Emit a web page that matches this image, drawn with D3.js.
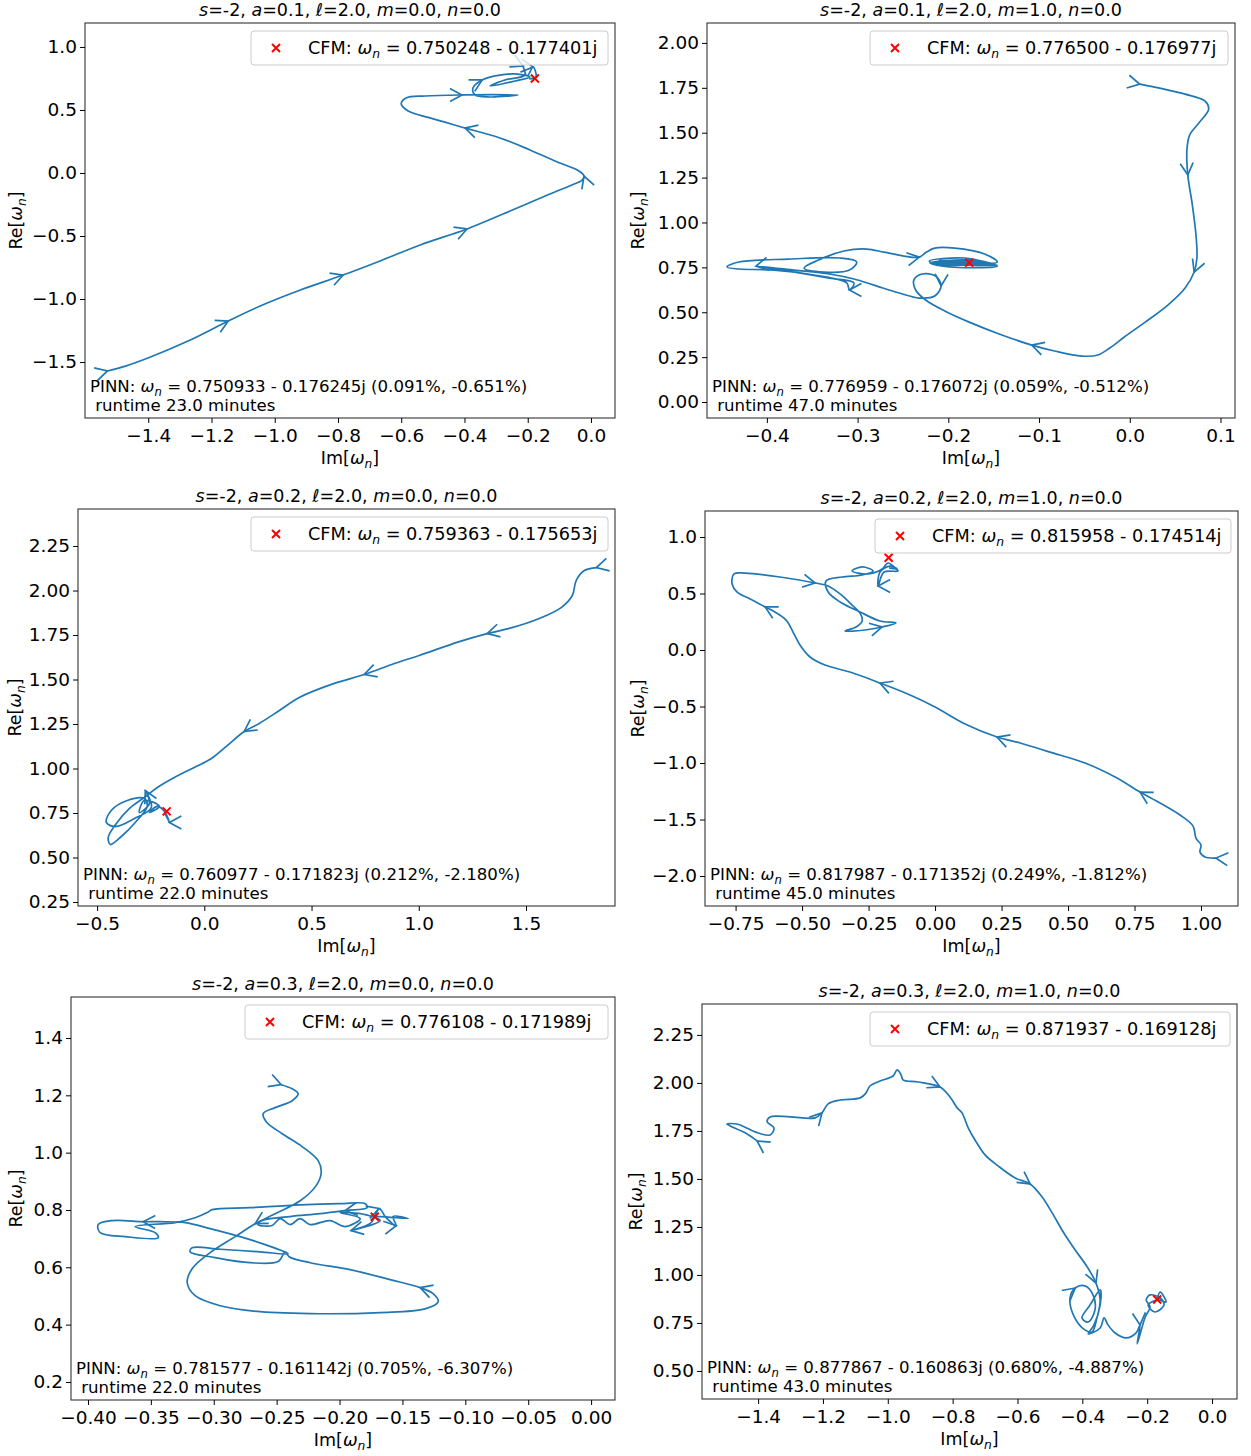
<!DOCTYPE html>
<html>
<head>
<meta charset="utf-8">
<script src="https://cdn.jsdelivr.net/npm/d3@7"></script>
<style>
  body { margin: 0; background: #fff; }
  svg { font-family: "DejaVu Sans", sans-serif; }
</style>
</head>
<body>
<script>
// ---- data ----
var titleA = ["0.1", "0.1", "0.2", "0.2", "0.3", "0.3"];
var titleM = ["0.0", "1.0", "0.0", "1.0", "0.0", "1.0"];

var cfmRe = [0.750248, 0.776500, 0.759363, 0.815958, 0.776108, 0.871937];
var cfmIm = [-0.177401, -0.176977, -0.175653, -0.174514, -0.171989, -0.169128];

var pinnText = [
  ["0.750933 - 0.176245j (0.091%, -0.651%)", "23.0"],
  ["0.776959 - 0.176072j (0.059%, -0.512%)", "47.0"],
  ["0.760977 - 0.171823j (0.212%, -2.180%)", "22.0"],
  ["0.817987 - 0.171352j (0.249%, -1.812%)", "45.0"],
  ["0.781577 - 0.161142j (0.705%, -6.307%)", "22.0"],
  ["0.877867 - 0.160863j (0.680%, -4.887%)", "43.0"]
];

// trajectory 1 : s=-2, a=0.1, m=0
var im1 = [-1.529,-1.472,-1.393,-1.267,-1.147,-1.046,-0.919,-0.784,-0.667,-0.540,-0.392,-0.256,-0.130,-0.060,-0.028,-0.022,-0.038,-0.098,-0.193,-0.288,-0.398,-0.509,-0.578,-0.600,-0.585,-0.524,-0.408,-0.231,-0.319,-0.367,-0.373,-0.344,-0.303,-0.240,-0.193,-0.240,-0.319,-0.272,-0.209,-0.215,-0.202,-0.183,-0.174,-0.193,-0.177];
var re1 = [-1.571,-1.532,-1.460,-1.325,-1.175,-1.056,-0.929,-0.810,-0.698,-0.571,-0.444,-0.302,-0.167,-0.095,-0.056,-0.024,0.016,0.079,0.183,0.278,0.357,0.437,0.492,0.548,0.595,0.611,0.619,0.619,0.603,0.619,0.675,0.738,0.770,0.786,0.762,0.730,0.690,0.738,0.778,0.849,0.770,0.841,0.762,0.746,0.754];
var arr1 = [0, 4, 7, 10, 15, 20, 26, 31, 39, 41];

// trajectory 2 : s=-2, a=0.1, m=1
var im2 = [0.011,0.033,0.061,0.083,0.087,0.077,0.066,0.063,0.064,0.069,0.073,0.074,0.071,0.061,0.042,0.017,-0.006,-0.022,-0.035,-0.053,-0.083,-0.108,-0.144,-0.177,-0.204,-0.225,-0.236,-0.238,-0.229,-0.214,-0.208,-0.215,-0.232,-0.254,-0.282,-0.304,-0.331,-0.370,-0.412,-0.376,-0.331,-0.304,-0.309,-0.312,-0.348,-0.392,-0.431,-0.444,-0.431,-0.376,-0.320,-0.301,-0.309,-0.337,-0.359,-0.343,-0.315,-0.290,-0.271,-0.249,-0.232,-0.224,-0.215,-0.193,-0.160,-0.146,-0.171,-0.210,-0.221,-0.182,-0.146,-0.199,-0.220,-0.177,-0.155,-0.204,-0.146,-0.215,-0.150,-0.210,-0.155,-0.220,-0.146,-0.205,-0.160,-0.215,-0.175];
var re2 = [1.771,1.748,1.715,1.676,1.631,1.559,1.487,1.403,1.264,1.097,0.930,0.802,0.724,0.635,0.540,0.445,0.362,0.301,0.262,0.256,0.284,0.317,0.379,0.445,0.507,0.568,0.624,0.679,0.713,0.702,0.646,0.590,0.579,0.607,0.651,0.685,0.713,0.735,0.757,0.729,0.690,0.663,0.624,0.663,0.707,0.735,0.741,0.752,0.780,0.796,0.802,0.780,0.735,0.724,0.746,0.791,0.841,0.852,0.835,0.813,0.807,0.835,0.857,0.857,0.824,0.780,0.768,0.763,0.785,0.802,0.757,0.752,0.774,0.791,0.768,0.768,0.763,0.780,0.770,0.790,0.775,0.770,0.760,0.785,0.780,0.775,0.778];
var arr2 = [0, 8, 12, 21, 30, 38, 42, 60];

// trajectory 3 : s=-2, a=0.2, m=0
var im3 = [1.828,1.772,1.734,1.716,1.664,1.562,1.422,1.319,1.189,1.002,0.886,0.746,0.606,0.443,0.350,0.256,0.186,0.107,0.033,-0.047,-0.140,-0.219,-0.280,-0.350,-0.410,-0.448,-0.438,-0.387,-0.322,-0.266,-0.280,-0.359,-0.434,-0.457,-0.415,-0.326,-0.247,-0.275,-0.256,-0.303,-0.280,-0.210,-0.256,-0.219,-0.182,-0.163,-0.186];
var re3 = [2.129,2.112,2.056,1.972,1.904,1.843,1.787,1.758,1.713,1.635,1.590,1.528,1.478,1.399,1.326,1.253,1.208,1.129,1.056,1.006,0.949,0.893,0.837,0.775,0.691,0.612,0.573,0.618,0.697,0.787,0.831,0.820,0.764,0.697,0.674,0.719,0.781,0.876,0.803,0.753,0.820,0.787,0.753,0.787,0.753,0.697,0.753];
var arr3 = [0, 7, 11, 16, 37, 45];

// trajectory 4 : s=-2, a=0.2, m=1
var im4 = [1.056,1.015,0.996,1.000,0.981,0.970,0.921,0.846,0.771,0.677,0.564,0.432,0.320,0.233,0.113,0.000,-0.094,-0.207,-0.320,-0.414,-0.470,-0.508,-0.534,-0.560,-0.602,-0.639,-0.695,-0.744,-0.763,-0.756,-0.714,-0.583,-0.451,-0.402,-0.357,-0.312,-0.282,-0.274,-0.297,-0.338,-0.263,-0.199,-0.147,-0.207,-0.282,-0.357,-0.402,-0.410,-0.350,-0.274,-0.233,-0.274,-0.312,-0.252,-0.199,-0.177,-0.150,-0.139,-0.192,-0.214,-0.207,-0.169,-0.143,-0.173];
var re4 = [-1.841,-1.832,-1.788,-1.726,-1.664,-1.558,-1.460,-1.354,-1.257,-1.124,-1.000,-0.903,-0.823,-0.770,-0.655,-0.504,-0.398,-0.292,-0.195,-0.133,-0.062,0.044,0.159,0.265,0.336,0.381,0.451,0.513,0.584,0.673,0.681,0.646,0.593,0.566,0.496,0.398,0.327,0.257,0.204,0.168,0.177,0.204,0.239,0.257,0.336,0.425,0.513,0.611,0.646,0.664,0.699,0.735,0.699,0.673,0.717,0.770,0.726,0.699,0.690,0.566,0.690,0.743,0.717,0.726];
var arr4 = [0, 8, 13, 17, 25, 32, 41, 59];

// trajectory 5 : s=-2, a=0.3, m=0
var im5 = [-0.2464,-0.2377,-0.2329,-0.2377,-0.2512,-0.2607,-0.2583,-0.2456,-0.2297,-0.2170,-0.2146,-0.2186,-0.2313,-0.2512,-0.2671,-0.2830,-0.3029,-0.3172,-0.3211,-0.3148,-0.2949,-0.2631,-0.2154,-0.1677,-0.1320,-0.1216,-0.1256,-0.1359,-0.1598,-0.1916,-0.2234,-0.2401,-0.2432,-0.2488,-0.2711,-0.2989,-0.3188,-0.3172,-0.2949,-0.2631,-0.2409,-0.2591,-0.2790,-0.3029,-0.3227,-0.3426,-0.3561,-0.3808,-0.3919,-0.3903,-0.3704,-0.3442,-0.3466,-0.3625,-0.3307,-0.3148,-0.3052,-0.3013,-0.2711,-0.2313,-0.1995,-0.1796,-0.1781,-0.1955,-0.2154,-0.2393,-0.2615,-0.2647,-0.2536,-0.2472,-0.2393,-0.2313,-0.2234,-0.2075,-0.1955,-0.1836,-0.1995,-0.1796,-0.1677,-0.1908,-0.1749,-0.1685,-0.1630,-0.1550,-0.1574,-0.1455,-0.1677,-0.1725];
var re5 = [1.237,1.223,1.206,1.181,1.157,1.136,1.108,1.066,1.021,0.972,0.930,0.885,0.832,0.787,0.752,0.707,0.651,0.595,0.546,0.501,0.466,0.445,0.438,0.442,0.455,0.480,0.508,0.529,0.557,0.592,0.616,0.637,0.654,0.620,0.616,0.634,0.654,0.668,0.663,0.654,0.647,0.679,0.707,0.735,0.756,0.759,0.759,0.763,0.749,0.721,0.707,0.703,0.721,0.742,0.756,0.773,0.791,0.801,0.808,0.818,0.822,0.822,0.808,0.798,0.787,0.777,0.763,0.749,0.746,0.770,0.749,0.770,0.749,0.763,0.742,0.770,0.791,0.784,0.763,0.728,0.756,0.805,0.773,0.745,0.777,0.770,0.777,0.777];
var arr5 = [0, 14, 27, 46, 63, 79, 81, 83];

// trajectory 6 : s=-2, a=0.3, m=1
var im6 = [-1.403,-1.440,-1.486,-1.496,-1.465,-1.409,-1.363,-1.351,-1.372,-1.363,-1.301,-1.224,-1.203,-1.184,-1.147,-1.085,-1.067,-1.055,-1.024,-0.984,-0.971,-0.959,-0.953,-0.907,-0.839,-0.808,-0.786,-0.771,-0.752,-0.731,-0.700,-0.660,-0.607,-0.561,-0.524,-0.493,-0.459,-0.422,-0.385,-0.358,-0.345,-0.355,-0.370,-0.392,-0.426,-0.438,-0.422,-0.392,-0.367,-0.361,-0.382,-0.401,-0.376,-0.345,-0.345,-0.364,-0.382,-0.345,-0.333,-0.321,-0.299,-0.265,-0.234,-0.222,-0.231,-0.206,-0.191,-0.203,-0.191,-0.160,-0.148,-0.176,-0.197,-0.167,-0.142,-0.160,-0.170];
var re6 = [1.698,1.740,1.776,1.786,1.786,1.745,1.729,1.766,1.797,1.823,1.823,1.818,1.844,1.891,1.911,1.922,1.948,1.984,2.010,2.036,2.068,2.042,2.016,2.005,1.979,1.927,1.870,1.844,1.766,1.703,1.625,1.568,1.505,1.474,1.406,1.323,1.224,1.130,1.042,0.958,0.870,0.776,0.703,0.714,0.786,0.880,0.932,0.943,0.896,0.818,0.755,0.776,0.844,0.922,0.844,0.740,0.693,0.724,0.776,0.740,0.698,0.672,0.698,0.740,0.641,0.781,0.833,0.870,0.896,0.880,0.844,0.807,0.844,0.870,0.859,0.911,0.870];
var arr6 = [0, 12, 24, 33, 39, 46, 63];

var trajIm = [im1, im2, im3, im4, im5, im6];
var trajRe = [re1, re2, re3, re4, re5, re6];
var trajArrows = [arr1, arr2, arr3, arr4, arr5, arr6];

// ---- layout ----
var panels = [
  {box: {l: 85, r: 615, t: 23, b: 418}, xd: [-1.600, 0.076], yd: [-1.944, 1.190],
   xt: [-1.4, -1.2, -1.0, -0.8, -0.6, -0.4, -0.2, 0.0], yt: [-1.5, -1.0, -0.5, 0.0, 0.5, 1.0], xf: ".1f", yf: ".1f", ylx: 16, lw: 357},
  {box: {l: 707, r: 1235, t: 23, b: 418}, xd: [-0.466, 0.116], yd: [-0.089, 2.111],
   xt: [-0.4, -0.3, -0.2, -0.1, 0.0, 0.1], yt: [0, 0.25, 0.5, 0.75, 1.0, 1.25, 1.5, 1.75, 2.0], xf: ".1f", yf: ".2f", ylx: 638, lw: 358},
  {box: {l: 78, r: 615, t: 509, b: 906}, xd: [-0.589, 1.915], yd: [0.2275, 2.458],
   xt: [-0.5, 0.0, 0.5, 1.0, 1.5], yt: [0.25, 0.5, 0.75, 1.0, 1.25, 1.5, 1.75, 2.0, 2.25], xf: ".1f", yf: ".2f", ylx: 15, lw: 357},
  {box: {l: 705, r: 1238, t: 511, b: 906}, xd: [-0.865, 1.139], yd: [-2.265, 1.230],
   xt: [-0.75, -0.5, -0.25, 0, 0.25, 0.5, 0.75, 1.0], yt: [-2.0, -1.5, -1.0, -0.5, 0.0, 0.5, 1.0], xf: ".2f", yf: ".1f", ylx: 638, lw: 356},
  {box: {l: 71, r: 615, t: 997, b: 1400}, xd: [-0.4135, 0.019], yd: [0.137, 1.543],
   xt: [-0.40, -0.35, -0.30, -0.25, -0.20, -0.15, -0.10, -0.05, 0.00], yt: [0.2, 0.4, 0.6, 0.8, 1.0, 1.2, 1.4], xf: ".2f", yf: ".1f", ylx: 16, lw: 363},
  {box: {l: 702, r: 1237, t: 1004, b: 1399}, xd: [-1.573, 0.077], yd: [0.354, 2.411],
   xt: [-1.4, -1.2, -1.0, -0.8, -0.6, -0.4, -0.2, 0.0], yt: [0.5, 0.75, 1.0, 1.25, 1.5, 1.75, 2.0, 2.25], xf: ".1f", yf: ".2f", ylx: 636, lw: 360}
];

var blue = "#1f77b4";

var svg = d3.select("body").append("svg")
    .attr("width", 1251)
    .attr("height", 1456);

// append italic "ω" with subscript n, then the text that follows it
function omegaN(t, size, after) {
  t.append("tspan").attr("font-style", "italic").text("ω");
  t.append("tspan").attr("font-style", "italic").attr("font-size", size * 0.7)
    .attr("dy", size * 0.22).text("n");
  t.append("tspan").attr("dy", -size * 0.22).text(after);
}

panels.forEach(function(p, k) {
  var b = p.box;
  var x = d3.scaleLinear().domain(p.xd).range([b.l, b.r]);
  var y = d3.scaleLinear().domain(p.yd).range([b.b, b.t]);
  var g = svg.append("g");

  // clip for the trajectory
  g.append("clipPath").attr("id", "clip" + k)
    .append("rect").attr("x", b.l).attr("y", b.t)
    .attr("width", b.r - b.l).attr("height", b.b - b.t);

  // trajectory line
  var pts = trajIm[k].map(function(v, i) { return [v, trajRe[k][i]]; });
  var line = d3.line()
      .x(function(d) { return x(d[0]); })
      .y(function(d) { return y(d[1]); })
      .curve(d3.curveCatmullRom.alpha(0.5));
  var plot = g.append("g").attr("clip-path", "url(#clip" + k + ")");
  plot.append("path")
    .datum(pts)
    .attr("d", line)
    .attr("fill", "none")
    .attr("stroke", blue)
    .attr("stroke-width", 1.7)
    .attr("stroke-linejoin", "round");

  // open arrow heads along the path
  trajArrows[k].forEach(function(i) {
    var a = pts[Math.max(i - 1, 0)], c = pts[Math.min(i + 1, pts.length - 1)];
    var px = x(pts[i][0]), py = y(pts[i][1]);
    var dx = x(c[0]) - x(a[0]), dy = y(c[1]) - y(a[1]);
    var len = Math.sqrt(dx * dx + dy * dy) || 1;
    dx /= len; dy /= len;
    var L = 12, Wd = 6.5;
    var bx = px - dx * L, by = py - dy * L;
    plot.append("path")
      .attr("d", "M" + (bx - dy * Wd) + "," + (by + dx * Wd) + "L" + px + "," + py +
                 "L" + (bx + dy * Wd) + "," + (by - dx * Wd))
      .attr("fill", "none")
      .attr("stroke", blue)
      .attr("stroke-width", 1.7);
  });

  // CFM marker
  var mx = x(cfmIm[k]), my = y(cfmRe[k]);
  g.append("path")
    .attr("d", "M" + (mx - 4) + "," + (my - 4) + "L" + (mx + 4) + "," + (my + 4) +
               "M" + (mx - 4) + "," + (my + 4) + "L" + (mx + 4) + "," + (my - 4))
    .attr("stroke", "red").attr("stroke-width", 2);

  // frame
  g.append("rect")
    .attr("x", b.l).attr("y", b.t)
    .attr("width", b.r - b.l).attr("height", b.b - b.t)
    .attr("fill", "none").attr("stroke", "#333").attr("stroke-width", 1.1);

  // axes
  var xAxis = d3.axisBottom(x).tickValues(p.xt).tickFormat(d3.format(p.xf))
      .tickSizeInner(5).tickSizeOuter(0).tickPadding(6);
  var yAxis = d3.axisLeft(y).tickValues(p.yt).tickFormat(d3.format(p.yf))
      .tickSizeInner(5).tickSizeOuter(0).tickPadding(3);
  var gx = g.append("g").attr("transform", "translate(0," + b.b + ")").call(xAxis);
  var gy = g.append("g").attr("transform", "translate(" + b.l + ",0)").call(yAxis);
  [gx, gy].forEach(function(ax) {
    ax.select(".domain").remove();
    ax.selectAll("text").attr("font-size", 18.5).attr("fill", "#000")
      .attr("font-family", "DejaVu Sans");
    ax.selectAll("line").attr("stroke", "#000");
  });

  // title
  var cx = (b.l + b.r) / 2;
  var tt = g.append("text").attr("x", cx).attr("y", b.t - 7)
      .attr("text-anchor", "middle").attr("font-size", 17.5);
  tt.append("tspan").attr("font-style", "italic").text("s");
  tt.append("tspan").text("=-2, ");
  tt.append("tspan").attr("font-style", "italic").text("a");
  tt.append("tspan").text("=" + titleA[k] + ", ℓ=2.0, ");
  tt.append("tspan").attr("font-style", "italic").text("m");
  tt.append("tspan").text("=" + titleM[k] + ", ");
  tt.append("tspan").attr("font-style", "italic").text("n");
  tt.append("tspan").text("=0.0");

  // axis labels
  var xl = g.append("text").attr("x", cx).attr("y", b.b + 46)
      .attr("text-anchor", "middle").attr("font-size", 17.5);
  xl.append("tspan").text("Im[");
  omegaN(xl, 17.5, "]");

  var ycy = (b.t + b.b) / 2;
  var yl = g.append("text")
      .attr("transform", "translate(" + (p.ylx + 6) + "," + ycy + ") rotate(-90)")
      .attr("text-anchor", "middle").attr("font-size", 17.5);
  yl.append("tspan").text("Re[");
  omegaN(yl, 17.5, "]");

  // legend
  var lw = p.lw, lh = 34;
  var lx = b.r - 7 - lw, ly = b.t + 8;
  g.append("rect").attr("x", lx).attr("y", ly).attr("width", lw).attr("height", lh)
    .attr("rx", 3).attr("fill", "#fff").attr("fill-opacity", 0.8)
    .attr("stroke", "#cccccc").attr("stroke-width", 1);
  var lmx = lx + 25, lmy = ly + lh / 2;
  g.append("path")
    .attr("d", "M" + (lmx - 4) + "," + (lmy - 4) + "L" + (lmx + 4) + "," + (lmy + 4) +
               "M" + (lmx - 4) + "," + (lmy + 4) + "L" + (lmx + 4) + "," + (lmy - 4))
    .attr("stroke", "red").attr("stroke-width", 2);
  var lt = g.append("text").attr("x", lx + 57).attr("y", lmy + 6).attr("font-size", 17.7);
  lt.append("tspan").text("CFM: ");
  omegaN(lt, 17.7, " = " + d3.format(".6f")(cfmRe[k]) + " - " +
                   d3.format(".6f")(-cfmIm[k]) + "j");

  // PINN annotation
  var pt = g.append("text").attr("x", b.l + 5).attr("y", b.b - 26).attr("font-size", 16.6);
  pt.append("tspan").text("PINN: ");
  omegaN(pt, 16.6, " = " + pinnText[k][0]);
  g.append("text").attr("x", b.l + 5).attr("y", b.b - 7).attr("font-size", 16.6)
    .style("white-space", "pre")
    .text(" runtime " + pinnText[k][1] + " minutes");
});
</script>
</body>
</html>
